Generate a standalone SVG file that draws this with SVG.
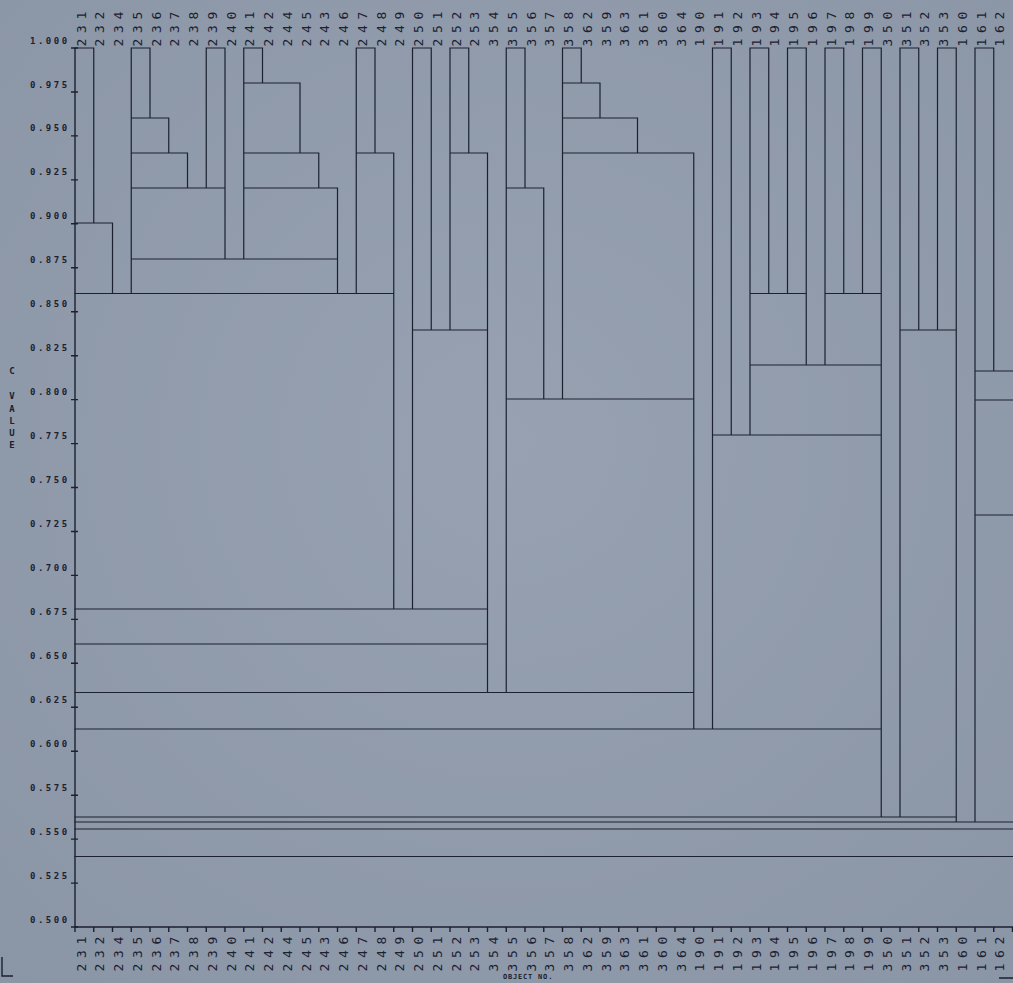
<svg xmlns="http://www.w3.org/2000/svg" width="1013" height="983" viewBox="0 0 1013 983">
<defs>
<radialGradient id="bg" cx="50%" cy="45%" r="75%">
<stop offset="0" stop-color="#97a1b1"/>
<stop offset="1" stop-color="#8a95a5"/>
</radialGradient>
<style>
.ln{fill:none;stroke:#1c2130;stroke-width:1.2;stroke-linecap:square}
.ax{fill:none;stroke:#1c2130;stroke-width:1.4}
.lab{font-family:"DejaVu Sans Mono","Liberation Mono",monospace;font-size:13px;letter-spacing:5.7px;fill:#1c2130}
.yl{font-family:"DejaVu Sans Mono","Liberation Mono",monospace;font-size:9px;font-weight:bold;letter-spacing:2.5px;fill:#1c2130}
.ttl{font-family:"DejaVu Sans Mono","Liberation Mono",monospace;font-size:9px;font-weight:bold;fill:#1c2130;text-anchor:middle}
.obj{font-family:"DejaVu Sans Mono","Liberation Mono",monospace;font-size:7px;font-weight:bold;letter-spacing:0.8px;fill:#1c2130}
</style>
</defs>
<rect x="0" y="0" width="1013" height="983" fill="url(#bg)"/>

<g id="axes">
<path class="ax" d="M75,48 V927 H1013"/>
<path class="ax" d="M71,48 H78 M71,92 H78 M71,135.9 H78 M71,179.9 H78 M71,223.8 H78 M71,267.8 H78 M71,311.7 H78 M71,355.7 H78 M71,399.6 H78 M71,443.6 H78 M71,487.5 H78 M71,531.5 H78 M71,575.4 H78 M71,619.4 H78 M71,663.3 H78 M71,707.3 H78 M71,751.2 H78 M71,795.2 H78 M71,839.1 H78 M71,883.1 H78 M71,927 H78"/>
<path class="ax" d="M75,927v5 M93.75,927v5 M112.5,927v5 M131.25,927v5 M150,927v5 M168.75,927v5 M187.5,927v5 M206.25,927v5 M225,927v5 M243.75,927v5 M262.5,927v5 M281.25,927v5 M300,927v5 M318.75,927v5 M337.5,927v5 M356.25,927v5 M375,927v5 M393.75,927v5 M412.5,927v5 M431.25,927v5 M450,927v5 M468.75,927v5 M487.5,927v5 M506.25,927v5 M525,927v5 M543.75,927v5 M562.5,927v5 M581.25,927v5 M600,927v5 M618.75,927v5 M637.5,927v5 M656.25,927v5 M675,927v5 M693.75,927v5 M712.5,927v5 M731.25,927v5 M750,927v5 M768.75,927v5 M787.5,927v5 M806.25,927v5 M825,927v5 M843.75,927v5 M862.5,927v5 M881.25,927v5 M900,927v5 M918.75,927v5 M937.5,927v5 M956.25,927v5 M975,927v5 M993.75,927v5 M1012.5,927v5"/>
<g id="ylabels">
<text class="yl" x="30" y="43.5">1.000</text>
<text class="yl" x="30" y="87.5">0.975</text>
<text class="yl" x="30" y="131.4">0.950</text>
<text class="yl" x="30" y="175.4">0.925</text>
<text class="yl" x="30" y="219.3">0.900</text>
<text class="yl" x="30" y="263.3">0.875</text>
<text class="yl" x="30" y="307.2">0.850</text>
<text class="yl" x="30" y="351.2">0.825</text>
<text class="yl" x="30" y="395.1">0.800</text>
<text class="yl" x="30" y="439.1">0.775</text>
<text class="yl" x="30" y="483">0.750</text>
<text class="yl" x="30" y="527">0.725</text>
<text class="yl" x="30" y="570.9">0.700</text>
<text class="yl" x="30" y="614.9">0.675</text>
<text class="yl" x="30" y="658.8">0.650</text>
<text class="yl" x="30" y="702.8">0.625</text>
<text class="yl" x="30" y="746.7">0.600</text>
<text class="yl" x="30" y="790.7">0.575</text>
<text class="yl" x="30" y="834.6">0.550</text>
<text class="yl" x="30" y="878.6">0.525</text>
<text class="yl" x="30" y="922.5">0.500</text>
</g>
<text class="ttl"><tspan x="12" y="374">C</tspan><tspan x="12" y="398.5">V</tspan><tspan x="12" y="411.5">A</tspan><tspan x="12" y="423.5">L</tspan><tspan x="12" y="435.5">U</tspan><tspan x="12" y="448">E</tspan></text>
<text class="obj" x="503" y="979">OBJECT NO.</text>
<path class="ax" d="M2,957 V976 H13 M999,978 H1013"/>
</g>

<g id="connectors">
<path class="ln" d="M75,48 H93.75 M93.75,48 V223 M75,223 H112.5 V293.5 M75,293.5 H393.75
M131.25,48 H150 V118 M131.25,48 V293.5 M131.25,118 H168.75 V153 M131.25,153 H187.5 V188 M131.25,188 H225
M206.25,48 H225 V259 M206.25,48 V188 M131.25,259 H337.5
M243.75,48 H262.5 V83 M243.75,48 V259 M243.75,83 H300 V153 M243.75,153 H318.75 V188 M243.75,188 H337.5 V293.5
M356.25,48 H375 V153 M356.25,48 V293.5 M356.25,153 H393.75 V609
M412.5,48 H431.25 V330 M412.5,48 V609 M450,48 H468.75 V153 M450,48 V330 M450,153 H487.5 V692.5 M412.5,330 H487.5
M75,609 H487.5 M75,644 H487.5
M506.25,48 H525 V188 M506.25,48 V692.5 M506.25,188 H543.75 V399
M562.5,48 H581.25 V83 M562.5,48 V399 M562.5,83 H600 V118 M562.5,118 H637.5 V153 M562.5,153 H693.75 V729 M506.25,399 H693.75
M75,692.5 H693.75
M712.5,48 H731.25 V435 M712.5,48 V729
M750,48 H768.75 V293.5 M750,48 V435 M787.5,48 H806.25 V365 M787.5,48 V293.5 M750,293.5 H806.25
M825,48 H843.75 V293.5 M825,48 V365 M862.5,48 H881.25 V817 M862.5,48 V293.5 M825,293.5 H881.25
M750,365 H881.25 M712.5,435 H881.25 M75,729 H881.25
M900,48 H918.75 V330 M900,48 V817 M937.5,48 H956.25 V822 M937.5,48 V330 M900,330 H956.25
M75,817 H956.25
M975,48 H993.75 V371 M975,48 V822 M975,371 H1013 M975,400 H1013 M975,515 H1013
M75,822 H1013 M75,829 H1013 M75,856.5 H1013"/>
</g>

<g id="leaves">
<g id="leaf-231"><text class="lab" transform="translate(85.5,46.5) rotate(-90)">231</text><text class="lab" transform="translate(85.5,971.5) rotate(-90)">231</text></g>
<g id="leaf-232"><text class="lab" transform="translate(104.25,46.5) rotate(-90)">232</text><text class="lab" transform="translate(104.25,971.5) rotate(-90)">232</text></g>
<g id="leaf-234"><text class="lab" transform="translate(123,46.5) rotate(-90)">234</text><text class="lab" transform="translate(123,971.5) rotate(-90)">234</text></g>
<g id="leaf-235"><text class="lab" transform="translate(141.75,46.5) rotate(-90)">235</text><text class="lab" transform="translate(141.75,971.5) rotate(-90)">235</text></g>
<g id="leaf-236"><text class="lab" transform="translate(160.5,46.5) rotate(-90)">236</text><text class="lab" transform="translate(160.5,971.5) rotate(-90)">236</text></g>
<g id="leaf-237"><text class="lab" transform="translate(179.25,46.5) rotate(-90)">237</text><text class="lab" transform="translate(179.25,971.5) rotate(-90)">237</text></g>
<g id="leaf-238"><text class="lab" transform="translate(198,46.5) rotate(-90)">238</text><text class="lab" transform="translate(198,971.5) rotate(-90)">238</text></g>
<g id="leaf-239"><text class="lab" transform="translate(216.75,46.5) rotate(-90)">239</text><text class="lab" transform="translate(216.75,971.5) rotate(-90)">239</text></g>
<g id="leaf-240"><text class="lab" transform="translate(235.5,46.5) rotate(-90)">240</text><text class="lab" transform="translate(235.5,971.5) rotate(-90)">240</text></g>
<g id="leaf-241"><text class="lab" transform="translate(254.25,46.5) rotate(-90)">241</text><text class="lab" transform="translate(254.25,971.5) rotate(-90)">241</text></g>
<g id="leaf-242"><text class="lab" transform="translate(273,46.5) rotate(-90)">242</text><text class="lab" transform="translate(273,971.5) rotate(-90)">242</text></g>
<g id="leaf-244"><text class="lab" transform="translate(291.75,46.5) rotate(-90)">244</text><text class="lab" transform="translate(291.75,971.5) rotate(-90)">244</text></g>
<g id="leaf-245"><text class="lab" transform="translate(310.5,46.5) rotate(-90)">245</text><text class="lab" transform="translate(310.5,971.5) rotate(-90)">245</text></g>
<g id="leaf-243"><text class="lab" transform="translate(329.25,46.5) rotate(-90)">243</text><text class="lab" transform="translate(329.25,971.5) rotate(-90)">243</text></g>
<g id="leaf-246"><text class="lab" transform="translate(348,46.5) rotate(-90)">246</text><text class="lab" transform="translate(348,971.5) rotate(-90)">246</text></g>
<g id="leaf-247"><text class="lab" transform="translate(366.75,46.5) rotate(-90)">247</text><text class="lab" transform="translate(366.75,971.5) rotate(-90)">247</text></g>
<g id="leaf-248"><text class="lab" transform="translate(385.5,46.5) rotate(-90)">248</text><text class="lab" transform="translate(385.5,971.5) rotate(-90)">248</text></g>
<g id="leaf-249"><text class="lab" transform="translate(404.25,46.5) rotate(-90)">249</text><text class="lab" transform="translate(404.25,971.5) rotate(-90)">249</text></g>
<g id="leaf-250"><text class="lab" transform="translate(423,46.5) rotate(-90)">250</text><text class="lab" transform="translate(423,971.5) rotate(-90)">250</text></g>
<g id="leaf-251"><text class="lab" transform="translate(441.75,46.5) rotate(-90)">251</text><text class="lab" transform="translate(441.75,971.5) rotate(-90)">251</text></g>
<g id="leaf-252"><text class="lab" transform="translate(460.5,46.5) rotate(-90)">252</text><text class="lab" transform="translate(460.5,971.5) rotate(-90)">252</text></g>
<g id="leaf-253"><text class="lab" transform="translate(479.25,46.5) rotate(-90)">253</text><text class="lab" transform="translate(479.25,971.5) rotate(-90)">253</text></g>
<g id="leaf-354"><text class="lab" transform="translate(498,46.5) rotate(-90)">354</text><text class="lab" transform="translate(498,971.5) rotate(-90)">354</text></g>
<g id="leaf-355"><text class="lab" transform="translate(516.75,46.5) rotate(-90)">355</text><text class="lab" transform="translate(516.75,971.5) rotate(-90)">355</text></g>
<g id="leaf-356"><text class="lab" transform="translate(535.5,46.5) rotate(-90)">356</text><text class="lab" transform="translate(535.5,971.5) rotate(-90)">356</text></g>
<g id="leaf-357"><text class="lab" transform="translate(554.25,46.5) rotate(-90)">357</text><text class="lab" transform="translate(554.25,971.5) rotate(-90)">357</text></g>
<g id="leaf-358"><text class="lab" transform="translate(573,46.5) rotate(-90)">358</text><text class="lab" transform="translate(573,971.5) rotate(-90)">358</text></g>
<g id="leaf-362"><text class="lab" transform="translate(591.75,46.5) rotate(-90)">362</text><text class="lab" transform="translate(591.75,971.5) rotate(-90)">362</text></g>
<g id="leaf-359"><text class="lab" transform="translate(610.5,46.5) rotate(-90)">359</text><text class="lab" transform="translate(610.5,971.5) rotate(-90)">359</text></g>
<g id="leaf-363"><text class="lab" transform="translate(629.25,46.5) rotate(-90)">363</text><text class="lab" transform="translate(629.25,971.5) rotate(-90)">363</text></g>
<g id="leaf-361"><text class="lab" transform="translate(648,46.5) rotate(-90)">361</text><text class="lab" transform="translate(648,971.5) rotate(-90)">361</text></g>
<g id="leaf-360"><text class="lab" transform="translate(666.75,46.5) rotate(-90)">360</text><text class="lab" transform="translate(666.75,971.5) rotate(-90)">360</text></g>
<g id="leaf-364"><text class="lab" transform="translate(685.5,46.5) rotate(-90)">364</text><text class="lab" transform="translate(685.5,971.5) rotate(-90)">364</text></g>
<g id="leaf-190"><text class="lab" transform="translate(704.25,46.5) rotate(-90)">190</text><text class="lab" transform="translate(704.25,971.5) rotate(-90)">190</text></g>
<g id="leaf-191"><text class="lab" transform="translate(723,46.5) rotate(-90)">191</text><text class="lab" transform="translate(723,971.5) rotate(-90)">191</text></g>
<g id="leaf-192"><text class="lab" transform="translate(741.75,46.5) rotate(-90)">192</text><text class="lab" transform="translate(741.75,971.5) rotate(-90)">192</text></g>
<g id="leaf-193"><text class="lab" transform="translate(760.5,46.5) rotate(-90)">193</text><text class="lab" transform="translate(760.5,971.5) rotate(-90)">193</text></g>
<g id="leaf-194"><text class="lab" transform="translate(779.25,46.5) rotate(-90)">194</text><text class="lab" transform="translate(779.25,971.5) rotate(-90)">194</text></g>
<g id="leaf-195"><text class="lab" transform="translate(798,46.5) rotate(-90)">195</text><text class="lab" transform="translate(798,971.5) rotate(-90)">195</text></g>
<g id="leaf-196"><text class="lab" transform="translate(816.75,46.5) rotate(-90)">196</text><text class="lab" transform="translate(816.75,971.5) rotate(-90)">196</text></g>
<g id="leaf-197"><text class="lab" transform="translate(835.5,46.5) rotate(-90)">197</text><text class="lab" transform="translate(835.5,971.5) rotate(-90)">197</text></g>
<g id="leaf-198"><text class="lab" transform="translate(854.25,46.5) rotate(-90)">198</text><text class="lab" transform="translate(854.25,971.5) rotate(-90)">198</text></g>
<g id="leaf-199"><text class="lab" transform="translate(873,46.5) rotate(-90)">199</text><text class="lab" transform="translate(873,971.5) rotate(-90)">199</text></g>
<g id="leaf-350"><text class="lab" transform="translate(891.75,46.5) rotate(-90)">350</text><text class="lab" transform="translate(891.75,971.5) rotate(-90)">350</text></g>
<g id="leaf-351"><text class="lab" transform="translate(910.5,46.5) rotate(-90)">351</text><text class="lab" transform="translate(910.5,971.5) rotate(-90)">351</text></g>
<g id="leaf-352"><text class="lab" transform="translate(929.25,46.5) rotate(-90)">352</text><text class="lab" transform="translate(929.25,971.5) rotate(-90)">352</text></g>
<g id="leaf-353"><text class="lab" transform="translate(948,46.5) rotate(-90)">353</text><text class="lab" transform="translate(948,971.5) rotate(-90)">353</text></g>
<g id="leaf-160"><text class="lab" transform="translate(966.75,46.5) rotate(-90)">160</text><text class="lab" transform="translate(966.75,971.5) rotate(-90)">160</text></g>
<g id="leaf-161"><text class="lab" transform="translate(985.5,46.5) rotate(-90)">161</text><text class="lab" transform="translate(985.5,971.5) rotate(-90)">161</text></g>
<g id="leaf-162"><text class="lab" transform="translate(1004.25,46.5) rotate(-90)">162</text><text class="lab" transform="translate(1004.25,971.5) rotate(-90)">162</text></g>
</g>
</svg>
